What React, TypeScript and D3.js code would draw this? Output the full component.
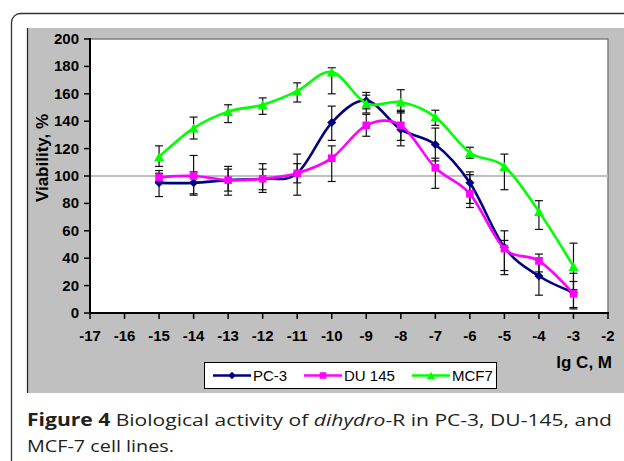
import React from "react";
import * as d3 from "d3";

const concentrations = [-15, -14, -13, -12, -11, -10, -9, -8, -7, -6, -5, -4, -3];
const pc3 = [95, 95, 97, 98, 102, 139, 155, 134, 123, 95, 48, 27, 15];
const pc3Low = [85, 87, 86, 88, 95, 126, 149, 122, 111, 77, 31, 13, 3];
const pc3High = [104, 103, 107, 109, 109, 151, 161, 147, 135, 103, 60, 40, 23];
const du145 = [99, 100, 97, 98, 102, 113, 137, 137, 106, 87, 47, 38, 14];
const du145Low = [96, 86, 89, 90, 86, 96, 129, 126, 91, 80, 28, 30, 4];
const du145High = [102, 115, 105, 105, 116, 122, 145, 148, 113, 101, 53, 43, 29];
const mcf7 = [114, 135, 147, 152, 162, 176, 153, 154, 143, 117, 107, 74, 34];
const mcf7Low = [107, 127, 139, 145, 154, 160, 146, 146, 137, 113, 90, 61, 17];
const mcf7High = [122, 143, 152, 157, 168, 179, 159, 163, 148, 121, 116, 82, 51];
const seriesNames = ["PC-3", "DU 145", "MCF7"];
const seriesColors = ["#000080", "#ff00ff", "#00ff00"];
const xTickValues = [-17, -16, -15, -14, -13, -12, -11, -10, -9, -8, -7, -6, -5, -4, -3, -2];
const yTickValues = [0, 20, 40, 60, 80, 100, 120, 140, 160, 180, 200];
const referenceLevel = 100;

type Series = { name: string; color: string; values: number[]; low: number[]; high: number[]; marker: string };

const series: Series[] = [
  { name: seriesNames[0], color: seriesColors[0], values: pc3, low: pc3Low, high: pc3High, marker: "diamond" },
  { name: seriesNames[1], color: seriesColors[1], values: du145, low: du145Low, high: du145High, marker: "square" },
  { name: seriesNames[2], color: seriesColors[2], values: mcf7, low: mcf7Low, high: mcf7High, marker: "triangle" },
];

const PL = 90, PR = 608, PT = 39, PB = 313;
const x = d3.scaleLinear().domain([-17, -2]).range([PL, PR]);
const y = d3.scaleLinear().domain([0, 200]).range([PB, PT]);

function Marker({ type, cx, cy, color, s = 1 }: { type: string; cx: number; cy: number; color: string; s?: number }) {
  if (type === "diamond") {
    const r = 4.5 * s;
    return <polygon points={`${cx},${cy - r} ${cx + r},${cy} ${cx},${cy + r} ${cx - r},${cy}`} fill={color} />;
  }
  if (type === "square") {
    const r = 3.8 * s;
    return <rect x={cx - r} y={cy - r} width={2 * r} height={2 * r} fill={color} />;
  }
  const w = 5 * s, h = 4.5 * s;
  return <polygon points={`${cx},${cy - h} ${cx + w},${cy + h} ${cx - w},${cy + h}`} fill={color} />;
}

const AR = "Arial, 'Liberation Sans', sans-serif";

export default function App() {
  const line = d3
    .line<number>()
    .x((_, i) => x(concentrations[i]))
    .y((d) => y(d))
    .curve(d3.curveCardinal.tension(0));

  const legendX = [213, 304, 412];

  return (
    <svg width={624} height={461} style={{ position: "absolute", left: 0, top: 0, background: "#fff" }}>
      <rect x={11.5} y={13.5} width={700} height={458} rx={9} fill="none" stroke="#333" strokeWidth={1.3} />
      <rect x={27} y={28} width={597} height={365} fill="#c0c0c0" />
      <line x1={27.5} y1={28} x2={27.5} y2={393} stroke="#222" strokeWidth={1.2} />
      <rect x={PL} y={PT} width={PR - PL} height={PB - PT} fill="#fff" stroke="#808080" strokeWidth={1.5} />
      <line x1={PL} x2={PR} y1={y(referenceLevel)} y2={y(referenceLevel)} stroke="#c0c0c0" strokeWidth={2} />
      <line x1={PL} x2={PL} y1={PT - 1} y2={PB + 1} stroke="#000" strokeWidth={2} />
      <line x1={PL - 1} x2={PR + 1} y1={PB} y2={PB} stroke="#000" strokeWidth={2} />
      {yTickValues.map((t) => (
        <g key={"y" + t}>
          <line x1={PL - 6} x2={PL} y1={y(t)} y2={y(t)} stroke="#000" strokeWidth={1.5} />
          <text x={79} y={y(t) + 5} textAnchor="end" fontFamily={AR} fontWeight="bold" fontSize={15} fill="#000">
            {t}
          </text>
        </g>
      ))}
      {xTickValues.map((t) => (
        <g key={"x" + t}>
          <line x1={x(t)} x2={x(t)} y1={PB} y2={PB + 6} stroke="#000" strokeWidth={1.5} />
          <text x={x(t)} y={341} textAnchor="middle" fontFamily={AR} fontWeight="bold" fontSize={15} fill="#000">
            {t}
          </text>
        </g>
      ))}
      <text transform="translate(48,158) rotate(-90)" textAnchor="middle" fontFamily={AR} fontWeight="bold" fontSize={17} fill="#000">
        Viability, %
      </text>
      <text x={612} y={368} textAnchor="end" fontFamily={AR} fontWeight="bold" fontSize={17} fill="#000">
        lg C, M
      </text>
      {series.map((s) =>
        concentrations.map((c, i) => {
          const cx = x(c);
          return (
            <g key={s.name + "e" + i} stroke="#111" strokeWidth={1.2}>
              <line x1={cx} x2={cx} y1={y(s.high[i])} y2={y(s.low[i])} />
              <line x1={cx - 4} x2={cx + 4} y1={y(s.high[i])} y2={y(s.high[i])} />
              <line x1={cx - 4} x2={cx + 4} y1={y(s.low[i])} y2={y(s.low[i])} />
            </g>
          );
        })
      )}
      {series.map((s) => (
        <g key={s.name}>
          <path d={line(s.values) || ""} fill="none" stroke={s.color} strokeWidth={2.6} />
          {s.values.map((v, i) => (
            <Marker key={i} type={s.marker} cx={x(concentrations[i])} cy={y(v)} color={s.color} />
          ))}
        </g>
      ))}
      <rect x={204.5} y={362.5} width={292} height={26} fill="#fff" stroke="#000" strokeWidth={1} />
      {series.map((s, i) => (
        <g key={"lg" + s.name}>
          <line x1={legendX[i]} x2={legendX[i] + 38} y1={375.5} y2={375.5} stroke={s.color} strokeWidth={2.6} />
          <Marker type={s.marker} cx={legendX[i] + 19} cy={375.5} color={s.color} s={0.85} />
          <text x={legendX[i] + 40} y={381} fontFamily={AR} fontSize={15} fill="#000">
            {s.name}
          </text>
        </g>
      ))}
      <text x={27} y={426} fontFamily="'Open Sans', sans-serif" fontSize={17} fill="#231f20" textLength={585} lengthAdjust="spacingAndGlyphs">
        <tspan fontWeight="bold">Figure 4</tspan>
        <tspan> Biological activity of </tspan>
        <tspan fontStyle="italic">dihydro</tspan>
        <tspan>-R in PC-3, DU-145, and</tspan>
      </text>
      <text x={27} y={451.5} fontFamily="'Open Sans', sans-serif" fontSize={17} fill="#231f20" textLength={147} lengthAdjust="spacingAndGlyphs">
        MCF-7 cell lines.
      </text>
    </svg>
  );
}
